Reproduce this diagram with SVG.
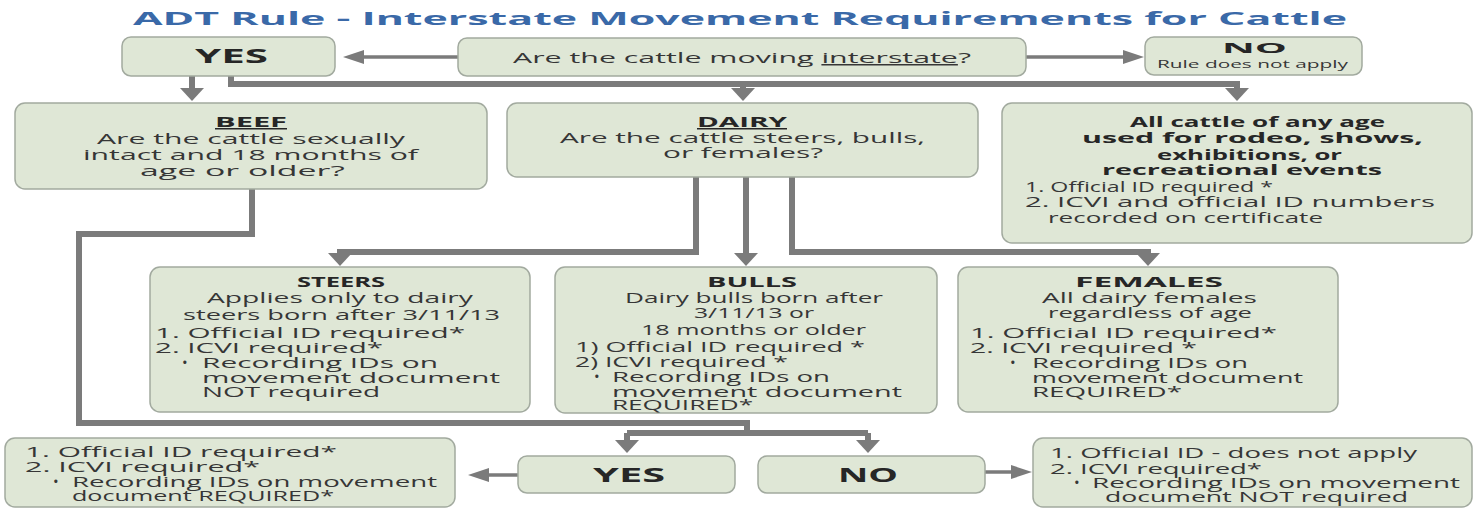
<svg xmlns="http://www.w3.org/2000/svg" width="1476" height="509" viewBox="0 0 1476 509">
  <style>
    .box { fill: #dfe7d6; stroke: #a2aa9f; stroke-width: 1.5; }
    .t { font-family: "Open Sans", "DejaVu Sans", sans-serif; font-size: 15px; fill: #363636; }
    .b { font-weight: 700; fill: #262626; }
    .big { font-size: 19px; }
    .sm { font-size: 11px; }
    .u { text-decoration: underline; }
    .title { font-family: "Open Sans", "DejaVu Sans", sans-serif; font-size: 18px; font-weight: 700; fill: #3a69a8; }
    .conn { fill: none; stroke: #7b7b7b; stroke-width: 6; }
    .thin { stroke-width: 3.5; }
  </style>
  <defs>
    <marker id="headV" markerUnits="userSpaceOnUse" markerWidth="13" markerHeight="24" viewBox="0 0 13 24" refX="1" refY="12" orient="auto">
      <path d="M0,0 L13,12 L0,24 Z" fill="#7b7b7b"/>
    </marker>
    <marker id="headH" markerUnits="userSpaceOnUse" markerWidth="21" markerHeight="14" viewBox="0 0 21 14" refX="1" refY="7" orient="auto">
      <path d="M0,0 L21,7 L0,14 Z" fill="#7b7b7b"/>
    </marker>
  </defs>

  <rect width="1476" height="509" fill="#ffffff"/>

  <text class="title" x="133" y="25" textLength="1214" lengthAdjust="spacingAndGlyphs">ADT Rule - Interstate Movement Requirements for Cattle</text>

  <!-- connectors -->
  <g id="connectors">
    <path class="conn thin" d="M458,57 H363" marker-end="url(#headH)"/>
    <path class="conn thin" d="M1026,57 H1124" marker-end="url(#headH)"/>
    <path class="conn" d="M192,76 V89" marker-end="url(#headV)"/>
    <path class="conn" d="M231,76 V84 H1237 V89" marker-end="url(#headV)"/>
    <path class="conn" d="M743,84 V89" marker-end="url(#headV)"/>
    <path class="conn" d="M696,177 V252 H340 V254" marker-end="url(#headV)"/>
    <path class="conn" d="M746,177 V254" marker-end="url(#headV)"/>
    <path class="conn" d="M792,177 V252 H1148 V254" marker-end="url(#headV)"/>
    <path class="conn" d="M252,189 V234 H79 V423 H747 V433"/>
    <path class="conn" d="M627,433 H868"/>
    <path class="conn" d="M627,433 V441" marker-end="url(#headV)"/>
    <path class="conn" d="M868,433 V441" marker-end="url(#headV)"/>
    <path class="conn thin" d="M518,475 H488" marker-end="url(#headH)"/>
    <path class="conn thin" d="M985,472 H1012" marker-end="url(#headH)"/>
  </g>

  <g id="yes-top">
    <rect class="box" x="122" y="37" width="213" height="39" rx="9"/>
    <text class="t b big" x="195" y="63" textLength="73" lengthAdjust="spacingAndGlyphs">YES</text>
  </g>

  <g id="question">
    <rect class="box" x="458" y="38" width="568" height="38" rx="9"/>
    <text class="t" x="513" y="63" font-size="16" textLength="458" lengthAdjust="spacingAndGlyphs">Are the cattle moving <tspan class="u">interstate</tspan>?</text>
  </g>

  <g id="no-top">
    <rect class="box" x="1145" y="37" width="217" height="38" rx="9"/>
    <text class="t b" x="1222" y="53" font-size="17" textLength="65" lengthAdjust="spacingAndGlyphs">NO</text>
    <text class="t sm" x="1157" y="68" textLength="191" lengthAdjust="spacingAndGlyphs">Rule does not apply</text>
  </g>

  <g id="beef">
    <rect class="box" x="15" y="103" width="472" height="86" rx="10"/>
    <text class="t b u" x="215" y="127" textLength="72" lengthAdjust="spacingAndGlyphs">BEEF</text>
    <text class="t" x="97" y="144" textLength="308" lengthAdjust="spacingAndGlyphs">Are the cattle sexually</text>
    <text class="t" x="83" y="160" textLength="335" lengthAdjust="spacingAndGlyphs">intact and 18 months of</text>
    <text class="t" x="140" y="176" textLength="205" lengthAdjust="spacingAndGlyphs">age or older?</text>
  </g>

  <g id="dairy">
    <rect class="box" x="507" y="103" width="471" height="74" rx="10"/>
    <text class="t b u" x="697" y="127" textLength="90" lengthAdjust="spacingAndGlyphs">DAIRY</text>
    <text class="t" x="560" y="143" textLength="365" lengthAdjust="spacingAndGlyphs">Are the cattle steers, bulls,</text>
    <text class="t" x="663" y="158" textLength="160" lengthAdjust="spacingAndGlyphs">or females?</text>
  </g>

  <g id="rodeo">
    <rect class="box" x="1002" y="103" width="470" height="140" rx="10"/>
    <text class="t b" x="1130" y="127" textLength="255" lengthAdjust="spacingAndGlyphs">All cattle of any age</text>
    <text class="t b" x="1082" y="143" textLength="341" lengthAdjust="spacingAndGlyphs">used for rodeo, shows,</text>
    <text class="t b" x="1157" y="160" textLength="185" lengthAdjust="spacingAndGlyphs">exhibitions, or</text>
    <text class="t b" x="1102" y="175" textLength="280" lengthAdjust="spacingAndGlyphs">recreational events</text>
    <text class="t" x="1025" y="192" textLength="248" lengthAdjust="spacingAndGlyphs">1. Official ID required *</text>
    <text class="t" x="1025" y="207" textLength="410" lengthAdjust="spacingAndGlyphs">2. ICVI and official ID numbers</text>
    <text class="t" x="1048" y="223" textLength="275" lengthAdjust="spacingAndGlyphs">recorded on certificate</text>
  </g>

  <g id="steers">
    <rect class="box" x="150" y="267" width="380" height="145" rx="10"/>
    <text class="t b" x="297" y="287" textLength="88" lengthAdjust="spacingAndGlyphs">STEERS</text>
    <text class="t" x="207" y="303" textLength="266" lengthAdjust="spacingAndGlyphs">Applies only to dairy</text>
    <text class="t" x="183" y="320" textLength="317" lengthAdjust="spacingAndGlyphs">steers born after 3/11/13</text>
    <text class="t" x="155" y="338" textLength="310" lengthAdjust="spacingAndGlyphs">1. Official ID required*</text>
    <text class="t" x="155" y="353" textLength="228" lengthAdjust="spacingAndGlyphs">2. ICVI required*</text>
    <text class="t" x="182" y="368">•</text>
    <text class="t" x="202" y="368" textLength="236" lengthAdjust="spacingAndGlyphs">Recording IDs on</text>
    <text class="t" x="202" y="383" textLength="298" lengthAdjust="spacingAndGlyphs">movement document</text>
    <text class="t" x="202" y="397" textLength="178" lengthAdjust="spacingAndGlyphs">NOT required</text>
  </g>

  <g id="bulls">
    <rect class="box" x="555" y="267" width="382" height="146" rx="10"/>
    <text class="t b" x="707" y="287" textLength="90" lengthAdjust="spacingAndGlyphs">BULLS</text>
    <text class="t" x="625" y="303" textLength="258" lengthAdjust="spacingAndGlyphs">Dairy bulls born after</text>
    <text class="t" x="694" y="318" textLength="120" lengthAdjust="spacingAndGlyphs">3/11/13 or</text>
    <text class="t" x="641" y="335" textLength="225" lengthAdjust="spacingAndGlyphs">18 months or older</text>
    <text class="t" x="575" y="352" textLength="290" lengthAdjust="spacingAndGlyphs">1) Official ID required *</text>
    <text class="t" x="575" y="367" textLength="213" lengthAdjust="spacingAndGlyphs">2) ICVI required *</text>
    <text class="t" x="594" y="382">•</text>
    <text class="t" x="612" y="382" textLength="218" lengthAdjust="spacingAndGlyphs">Recording IDs on</text>
    <text class="t" x="612" y="397" textLength="290" lengthAdjust="spacingAndGlyphs">movement document</text>
    <text class="t" x="612" y="410" textLength="141" lengthAdjust="spacingAndGlyphs">REQUIRED*</text>
  </g>

  <g id="females">
    <rect class="box" x="958" y="267" width="380" height="145" rx="10"/>
    <text class="t b" x="1075" y="287" textLength="148" lengthAdjust="spacingAndGlyphs">FEMALES</text>
    <text class="t" x="1042" y="303" textLength="215" lengthAdjust="spacingAndGlyphs">All dairy females</text>
    <text class="t" x="1048" y="318" textLength="204" lengthAdjust="spacingAndGlyphs">regardless of age</text>
    <text class="t" x="970" y="338" textLength="307" lengthAdjust="spacingAndGlyphs">1. Official ID required*</text>
    <text class="t" x="970" y="353" textLength="227" lengthAdjust="spacingAndGlyphs">2. ICVI required *</text>
    <text class="t" x="1010" y="368">•</text>
    <text class="t" x="1032" y="368" textLength="216" lengthAdjust="spacingAndGlyphs">Recording IDs on</text>
    <text class="t" x="1032" y="383" textLength="271" lengthAdjust="spacingAndGlyphs">movement document</text>
    <text class="t" x="1032" y="397" textLength="150" lengthAdjust="spacingAndGlyphs">REQUIRED*</text>
  </g>

  <g id="beef-yes-result">
    <rect class="box" x="5" y="438" width="450" height="69" rx="10"/>
    <text class="t" x="25" y="457" textLength="312" lengthAdjust="spacingAndGlyphs">1. Official ID required*</text>
    <text class="t" x="25" y="472" textLength="235" lengthAdjust="spacingAndGlyphs">2. ICVI required*</text>
    <text class="t" x="53" y="487">•</text>
    <text class="t" x="72" y="487" textLength="365" lengthAdjust="spacingAndGlyphs">Recording IDs on movement</text>
    <text class="t" x="72" y="501" textLength="262" lengthAdjust="spacingAndGlyphs">document REQUIRED*</text>
  </g>

  <g id="yes-bottom">
    <rect class="box" x="518" y="456" width="217" height="37" rx="9"/>
    <text class="t b big" x="593" y="482" textLength="72" lengthAdjust="spacingAndGlyphs">YES</text>
  </g>

  <g id="no-bottom">
    <rect class="box" x="758" y="456" width="227" height="37" rx="9"/>
    <text class="t b big" x="838" y="482" textLength="60" lengthAdjust="spacingAndGlyphs">NO</text>
  </g>

  <g id="beef-no-result">
    <rect class="box" x="1033" y="438" width="439" height="69" rx="10"/>
    <text class="t" x="1050" y="458" textLength="367" lengthAdjust="spacingAndGlyphs">1. Official ID - does not apply</text>
    <text class="t" x="1050" y="474" textLength="212" lengthAdjust="spacingAndGlyphs">2. ICVI required*</text>
    <text class="t" x="1074" y="488">•</text>
    <text class="t" x="1092" y="488" textLength="368" lengthAdjust="spacingAndGlyphs">Recording IDs on movement</text>
    <text class="t" x="1105" y="502" textLength="303" lengthAdjust="spacingAndGlyphs">document NOT required</text>
  </g>
</svg>
